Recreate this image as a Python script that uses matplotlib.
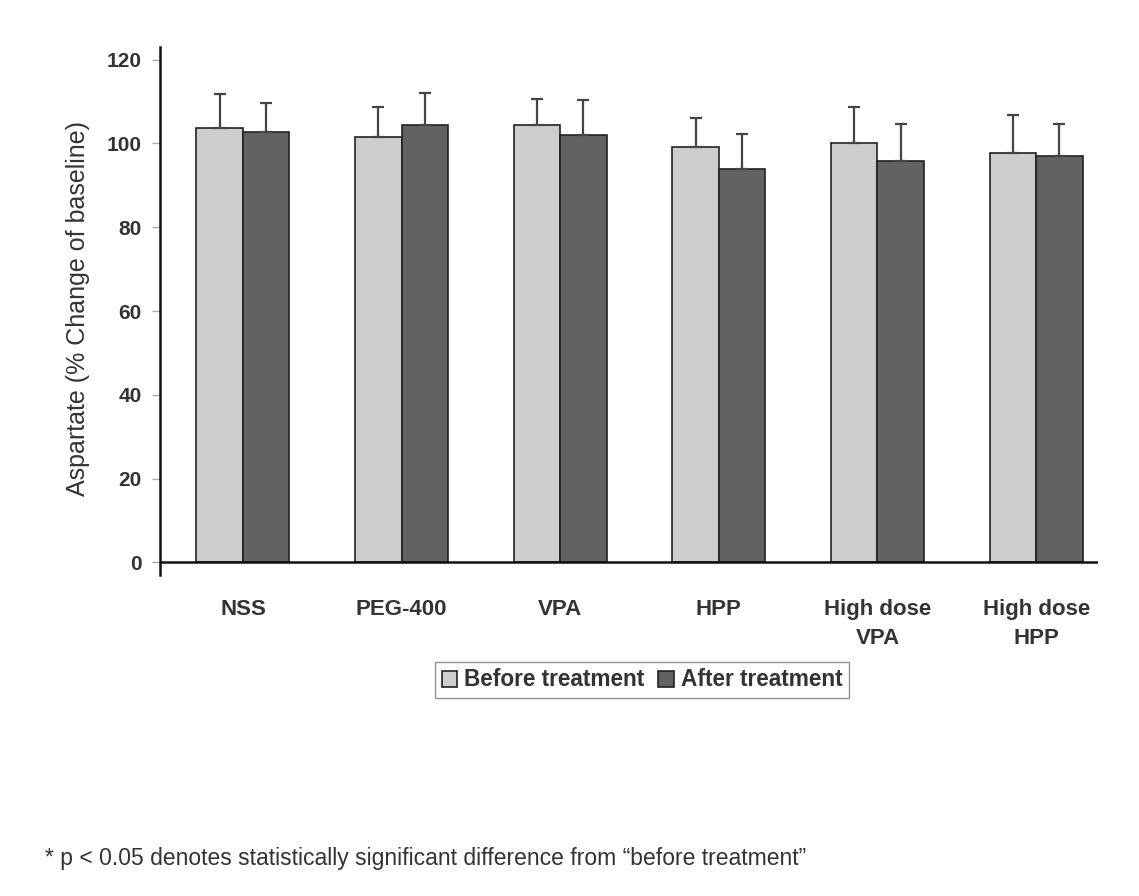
import numpy as np
import matplotlib.pyplot as plt

# group labels and values
groups = ["NSS", "PEG-400", "VPA", "HPP", "High dose\nVPA", "High dose\nHPP"]
before_mean = [103.7, 101.5, 104.3, 99.1, 100.0, 97.7]
before_se = [8.0, 7.3, 6.4, 7.0, 8.7, 9.0]
after_mean = [102.6, 104.5, 102.0, 93.8, 95.8, 97.1]
after_se = [7.0, 7.6, 8.3, 8.5, 8.9, 7.6]
yticks = [0, 20, 40, 60, 80, 100, 120]

plt.rcParams['font.family'] = ['Liberation Sans', 'DejaVu Sans']

fig = plt.figure(figsize=(11.39, 8.96), dpi=100)
ax = fig.add_axes([160 / 1139, 1 - 575 / 896, (1098 - 160) / 1139, (575 - 47) / 896])

x = np.arange(len(groups))
w = 0.293
err_kw = dict(ecolor='#444444', elinewidth=1.6, capsize=4, capthick=1.6)
ax.bar(x - w / 2, before_mean, w, color='#cdcdcd', edgecolor='#222222', linewidth=1.2,
       yerr=[np.zeros(len(x)), before_se], error_kw=err_kw, label='Before treatment')
ax.bar(x + w / 2, after_mean, w, color='#626262', edgecolor='#222222', linewidth=1.2,
       yerr=[np.zeros(len(x)), after_se], error_kw=err_kw, label='After treatment')

ax.set_xlim(-0.523, 5.39)
ax.set_ylim(-3, 123)
ax.axhline(0, color='#111111', linewidth=1.8)
for s in ['top', 'right', 'bottom']:
    ax.spines[s].set_visible(False)
ax.spines['left'].set_linewidth(1.8)
ax.spines['left'].set_color('#111111')

ax.set_yticks(yticks)
ax.set_yticklabels([str(v) for v in yticks], fontsize=15, fontweight='bold', color='#333333')
ax.tick_params(axis='y', direction='out', length=6, width=1, color='#aaaaaa', pad=7)
ax.set_xticks(x)
ax.set_xticklabels(groups, fontsize=16, fontweight='bold', color='#333333', linespacing=1.5)
ax.tick_params(axis='x', length=0, pad=17)

fig.text(78 / 1139, 1 - 308 / 896, 'Aspartate (% Change of baseline)', rotation=90,
         fontsize=18, color='#333333', ha='center', va='center')

leg = fig.legend(loc='center', bbox_to_anchor=(642 / 1139, 1 - 680 / 896), ncol=2,
                 frameon=True, fancybox=False, edgecolor='#777777', fontsize=16.3,
                 handlelength=0.7, handleheight=0.7, handletextpad=0.3, columnspacing=0.6,
                 borderpad=0.3, borderaxespad=0)
for t in leg.get_texts():
    t.set_fontweight('bold')
    t.set_color('#333333')

fig.text(45 / 1139, 1 - 858 / 896,
         '* p < 0.05 denotes statistically significant difference from \u201cbefore treatment\u201d',
         fontsize=16.5, color='#333333', va='center', ha='left')

fig.savefig('out.png', dpi=100, facecolor='white')
